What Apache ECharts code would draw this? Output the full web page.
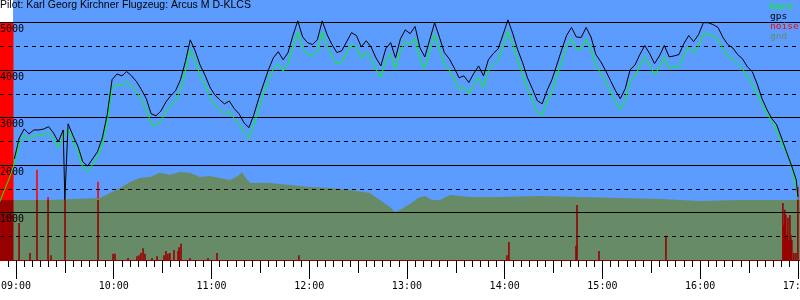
<!DOCTYPE html>
<html><head><meta charset="utf-8">
<script src="https://cdn.jsdelivr.net/npm/echarts@6/dist/echarts.min.js"></script>
<style>html,body{margin:0;padding:0;background:#fff}#c{width:800px;height:300px}</style>
</head><body><div id="c"></div>
<script>
// time in minutes since midnight
const times = [530,533,536,539,542,545,548,551,554,557,560,563,566,569,570,572,575,578,581,584,587,590,593,596,599,602,605,608,611,614,617,620,623,626,629,632,635,638,641,644,647,650,653,656,659,662,665,668,671,674,677,680,683,686,689,692,695,698,701,704,707,710,713,716,719,722,725,728,731,734,737,740,743,746,749,752,755,758,761,764,767,770,773,776,779,782,785,788,791,794,797,800,803,806,809,812,815,818,821,824,827,830,833,836,839,842,845,848,851,854,857,860,863,866,869,872,875,878,881,884,887,890,893,896,899,902,905,908,911,914,917,920,923,926,929,932,935,938,941,944,947,950,953,956,959,962,965,968,971,974,977,980,983,986,989,992,995,998,1001,1004,1007,1010,1013,1016,1019,1020];
const gps = [null,null,null,2130,2570,2760,2660,2740,2740,2760,2810,2680,2490,2740,1270,2870,2620,2400,2070,1980,2130,2280,2570,3060,3800,3920,3880,3970,3880,3760,3590,3400,3080,3040,3140,3330,3460,3570,3800,4180,4640,4410,4110,3900,3650,3480,3380,3290,3350,3190,3080,2890,2790,3060,3400,3710,4010,4260,4390,4220,4370,4730,5040,4700,4580,4540,4640,5040,4750,4540,4370,4410,4600,4790,4730,4490,4620,4490,4260,4090,4450,4580,4260,4660,4850,4770,4920,4470,4280,4640,5000,4690,4370,4240,4050,3840,3880,3740,3930,4090,3880,4220,4350,4450,4750,5060,4770,4430,4160,3840,3610,3360,3290,3570,3800,4110,4430,4730,4900,4700,4690,4900,4700,4330,4180,3990,3780,3570,3400,3610,4010,4110,4330,4520,4350,4140,4300,4520,4280,4300,4330,4560,4730,4600,4750,5000,5000,4960,4900,4690,4540,4470,4330,4240,4070,3970,3710,3400,3170,2980,2850,2570,2280,2000,1690,1330];
const baro = [1220,1480,1730,2030,2450,2640,2540,2620,2620,2640,2690,2560,2370,2620,2650,2750,2500,2280,1950,1860,2010,2160,2430,2900,3620,3710,3670,3760,3670,3550,3380,3190,2870,2830,2930,3120,3250,3360,3590,3970,4430,4200,3900,3690,3440,3270,3170,3080,3140,2980,2870,2680,2580,2850,3190,3500,3800,4020,4150,3980,4130,4490,4800,4460,4340,4300,4400,4800,4510,4300,4130,4170,4360,4550,4490,4250,4380,4250,4020,3850,4210,4340,4020,4420,4610,4530,4680,4230,4040,4400,4760,4450,4130,4000,3810,3600,3640,3500,3690,3850,3640,3980,4110,4210,4510,4820,4530,4190,3920,3600,3370,3120,3050,3330,3560,3870,4190,4490,4660,4460,4450,4660,4460,4090,3940,3750,3540,3330,3160,3370,3770,3870,4090,4280,4110,3900,4060,4280,4040,4060,4090,4320,4490,4360,4510,4760,4760,4720,4660,4450,4300,4230,4130,4030,3880,3710,3500,3290,3080,2930,2720,2470,2260,1980,1540,1270];
const gndTime = [530,561,591.6,597.7,603.9,610,616.1,622.3,628.4,634.5,640.7,646.8,653,659.1,665.2,671.4,676.3,678.7,681.2,683.7,695.9,708.2,720.5,732.8,745,757.3,763.4,769.6,772.7,775.7,778.8,783.7,786.8,791.1,795.4,800.3,806.4,818.7,837.1,861.7,886.2,910.8,935.3,959.9,984.4,1021.3];
const gnd = [1266,1266,1308,1414,1519,1646,1730,1751,1836,1794,1857,1836,1751,1772,1730,1688,1772,1857,1730,1625,1625,1583,1540,1519,1477,1414,1266,1118,1013,1055,1118,1224,1308,1350,1266,1266,1372,1329,1329,1350,1329,1308,1287,1245,1266,1266];
const noiseTime = [530,530.5,531,531.5,532,532.5,533,533.5,534,534.5,535,535.5,536,536.5,537,537.5,538,541.9,548.6,552.9,559.7,561.5,570.1,590.4,599.6,600.8,608.8,614.3,615.5,616.7,618.0,619.2,623.5,626.6,630.9,632.1,633.3,634.5,637.0,639.5,640.1,641.3,646.8,657.9,663.4,713.7,841.4,842.6,883.8,884.4,897.9,939.0,1010.8,1011.4,1012.0,1012.6,1013.2,1013.9,1014.5,1015.1,1015.7,1016.3,1017.5,1018.8,1020.0];
const noiseValue = [5000,5000,5000,5000,5000,5000,5000,5000,5000,5000,5000,5000,5000,5000,5000,5000,5000,780,150,1900,1330,100,1270,1650,130,130,40,80,100,150,250,130,40,80,100,190,130,150,210,190,270,340,40,40,150,100,100,380,300,1160,190,510,1200,740,1060,950,530,890,420,950,530,420,150,150,1540];
const hourTicks = [540,600,660,720,780,840,900,960,1020];
const xMin = 530.2, xMax = 1021.3, yMax = 5500, flightStart = 538.2;

const halfTicks = hourTicks.map(v => v + 30).filter(v => v < xMax);
const fiveTicks = [];
for (let m = 535; m <= xMax; m += 5) fiveTicks.push(m);

function groundAt(t) {
  let g = gnd[0];
  for (let i = 0; i < gndTime.length; i++) { if (gndTime[i] <= t) g = gnd[i]; }
  return g;
}
function hhmm(v) {
  const h = Math.floor(v / 60), m = Math.round(v % 60);
  return String(h).padStart(2, '0') + ':' + String(m).padStart(2, '0');
}
const mono = 'DejaVu Sans Mono';
const chart = echarts.init(document.getElementById('c'));
const xBase = { type: 'value', min: xMin, max: xMax, position: 'bottom', gridIndex: 0, splitLine: { show: false }, z: 5 };
chart.setOption({
  animation: false,
  backgroundColor: '#ffffff',
  title: { text: 'Pilot: Karl Georg Kirchner Flugzeug: Arcus M D-KLCS', left: 0, top: 0, padding: 0, z: 10,
    textStyle: { fontFamily: 'Liberation Sans', fontSize: 10.5, fontWeight: 'normal', color: '#000' } },
  legend: { orient: 'vertical', left: 765, top: 2, padding: 0, itemGap: 0, itemWidth: 0, itemHeight: 10, icon: 'none', selectedMode: false, z: 10,
    textStyle: { fontFamily: mono, fontSize: 9.5, lineHeight: 10 },
    data: [
      { name: 'baro', textStyle: { color: '#00ff00' } },
      { name: 'gps', textStyle: { color: '#000000' } },
      { name: 'noise', textStyle: { color: '#ff0000' } },
      { name: 'gnd', textStyle: { color: '#678a67' } }
    ] },
  grid: { left: 0, right: 0, top: -1, bottom: 40, containLabel: false, outerBoundsMode: 'none' },
  xAxis: [
    Object.assign({}, xBase, {
      axisLine: { show: true, onZero: false, lineStyle: { color: '#990000', width: 1 } },
      axisTick: { show: true, customValues: hourTicks, length: 19, lineStyle: { color: '#000' } },
      axisLabel: { show: true, customValues: hourTicks, formatter: hhmm, margin: 21, fontFamily: mono, fontSize: 10, color: '#000', hideOverlap: false }
    }),
    Object.assign({}, xBase, {
      axisLine: { show: false },
      axisTick: { show: true, customValues: halfTicks, length: 13, lineStyle: { color: '#000' } },
      axisLabel: { show: false }
    }),
    Object.assign({}, xBase, {
      axisLine: { show: false },
      axisTick: { show: true, customValues: fiveTicks, length: 7, lineStyle: { color: '#000' } },
      axisLabel: { show: false }
    })
  ],
  yAxis: [
    { type: 'value', min: 0, max: yMax, interval: 1000, position: 'left', z: 5,
      axisLine: { show: false }, axisTick: { show: false },
      axisLabel: { inside: true, margin: 0, verticalAlign: 'top', padding: [2, 0, 0, 0], fontFamily: mono, fontSize: 10, color: '#000',
        formatter: v => (v > 0 && v <= 5000) ? String(v) : '' },
      splitLine: { show: true, lineStyle: { color: '#000', width: 1 } } },
    { type: 'value', min: 0, max: yMax, interval: 500, position: 'left', z: 5,
      axisLine: { show: false }, axisTick: { show: false }, axisLabel: { show: false },
      splitLine: { show: true, lineStyle: { color: '#000', width: 1, type: [4, 4] } } }
  ],
  series: [
    { name: 'noise', type: 'bar', z: 2, barWidth: 1.6, barGap: '-100%', silent: true,
      itemStyle: { color: '#ff0000' },
      data: noiseTime.map((t, i) => [t, noiseValue[i]]) },
    { name: 'gnd', type: 'line', z: 3, symbol: 'none', silent: true,
      lineStyle: { width: 0 }, areaStyle: { color: '#678a67', opacity: 1 },
      data: gndTime.map((t, i) => [t, gnd[i]]),
      markArea: { silent: true, z: 1, itemStyle: { color: '#5c9cff' },
        data: [[{ xAxis: flightStart, yAxis: 0 }, { xAxis: xMax, yAxis: yMax }]] } },
    { name: 'noise', type: 'bar', z: 4, barWidth: 1.6, barGap: '-100%', silent: true,
      itemStyle: { color: '#990000' },
      data: noiseTime.map((t, i) => [t, Math.min(noiseValue[i], groundAt(t))]) },
    { name: 'baro', type: 'line', z: 6, symbol: 'none', silent: true,
      lineStyle: { color: '#00ff00', width: 1 }, itemStyle: { color: '#00ff00' },
      data: times.map((t, i) => [t, baro[i]]) },
    { name: 'gps', type: 'line', z: 7, symbol: 'none', silent: true, connectNulls: false,
      lineStyle: { color: '#000000', width: 1 }, itemStyle: { color: '#000000' },
      data: times.map((t, i) => [t, gps[i]]) }
  ]
});
</script></body></html>
